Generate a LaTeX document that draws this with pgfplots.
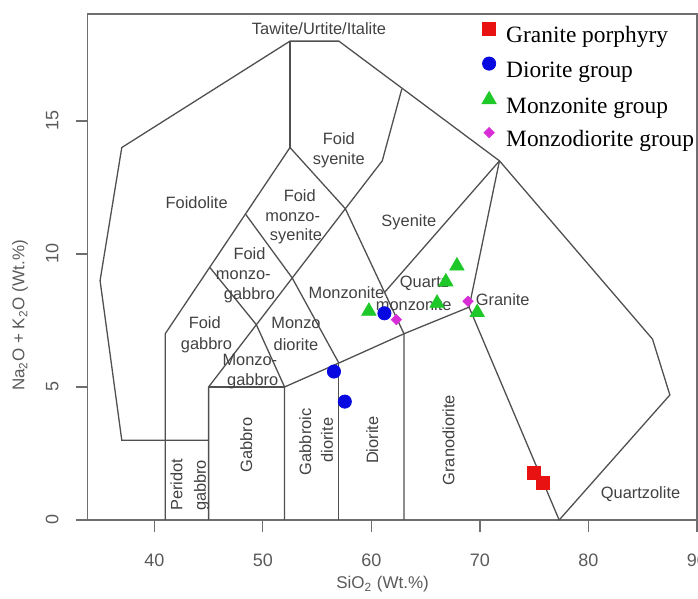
\documentclass[border=0pt]{standalone}
\usepackage{pgfplots}
\pgfplotsset{compat=1.18}
\usepackage{fontspec}
\setmainfont{Liberation Sans}
\newfontfamily\legendfont{Liberation Serif}

\definecolor{fieldline}{RGB}{80,80,80}
\definecolor{framegray}{RGB}{110,110,110}
\definecolor{labelgray}{RGB}{65,65,65}
\definecolor{ticktext}{RGB}{90,90,90}
\definecolor{gpred}{RGB}{232,18,18}
\definecolor{dgblue}{RGB}{8,8,225}
\definecolor{mggreen}{RGB}{30,200,40}
\definecolor{mdmagenta}{RGB}{215,45,215}

\newcommand\fieldfont{\fontsize{8.2}{10.4}\selectfont}

\begin{document}
\begin{tikzpicture}
\begin{axis}[
  scale only axis,
  width=304.65pt, height=253pt,
  xmin=33.86, xmax=90, ymin=0, ymax=19.02,
  axis line style={framegray, line width=0.75pt},
  tick pos=left,
  tick align=outside,
  major tick length=6pt,
  tick style={framegray, line width=0.6pt},
  xtick={40,50,60,70,80,90},
  ytick={0,5,10,15},
  /pgf/number format/assume math mode=true,
  ticklabel style={font=\fontsize{9}{10}\selectfont, text=ticktext},
  yticklabel style={rotate=90, anchor=south},
  xticklabel shift=7.5pt,
  yticklabel shift=5pt,
  xlabel={SiO\textsubscript{2} (Wt.\%)},
  ylabel={Na\textsubscript{2}O + K\textsubscript{2}O (Wt.\%)},
  label style={font=\fontsize{8.5}{10}\selectfont, text=ticktext},
  xlabel style={at={(axis description cs:0.484,-0.1265)}, anchor=center},
  ylabel style={at={(axis description cs:-0.111,0.404)}, anchor=center},
  clip=false,
  legend cell align=left,
  legend style={at={(axis description cs:0.6444,0.984)}, anchor=north west,
    draw=none, fill=none, inner sep=0pt, row sep=3.5pt, column sep=3.35pt,
    font=\legendfont\fontsize{11.7}{13}\selectfont,
    nodes={inner sep=1pt, text height=8pt, text depth=2.6pt}},
  legend image code/.code={\path (-4pt,0pt) (4pt,0pt); \draw[#1] plot coordinates {(0pt,4.15pt)};},
  field/.style={fieldline, line width=0.65pt, mark=none, forget plot},
]
% classification field boundaries
\addplot[field] coordinates {(45,3) (37,3) (35,9) (37,14) (52.5,18) (57,18) (71.8,13.5) (85.9,6.8) (87.5,4.7) (77.3,0)};
\addplot[field] coordinates {(52.5,18) (52.5,14)};
\addplot[field] coordinates {(41,0) (41,7) (52.5,14)};
\addplot[field] coordinates {(52.5,14) (57.6,11.7) (63,7) (63,0)};
\addplot[field] coordinates {(57.6,11.7) (61,13.5) (62.8,16.2)};
\addplot[field] coordinates {(45,0) (45,5) (57.6,11.7)};
\addplot[field] coordinates {(48.4,11.5) (52.7,9.1) (57,5.9)};
\addplot[field] coordinates {(45.1,9.5) (49.4,7.34) (52,5)};
\addplot[field] coordinates {(45,5) (52,5)};
\addplot[field] coordinates {(52,0) (52,5) (57,5.9) (63,7) (69,8)};
\addplot[field] coordinates {(57,0) (57,5.9)};
\addplot[field] coordinates {(61.2,8.55) (71.8,13.5)};
\addplot[field] coordinates {(69,8) (71.8,13.5)};
\addplot[field] coordinates {(69,8) (77.3,0)};

% field names
\begin{scope}[every node/.style={font=\fieldfont, text=labelgray, inner sep=0pt}]
\node at (axis cs:55.17,18.48) {Tawite/Urtite/Italite};
\node at (axis cs:43.9,11.94) {Foidolite};
\node[align=center] at (axis cs:57.0,13.9) {Foid\\syenite};
\node at (axis cs:53.4,12.2) {Foid};
\node at (axis cs:52.75,11.4) {monzo-};
\node at (axis cs:53.05,10.65) {syenite};
\node at (axis cs:48.77,10.03) {Foid};
\node at (axis cs:48.2,9.21) {monzo-};
\node at (axis cs:48.77,8.46) {gabbro};
\node at (axis cs:44.65,7.4) {Foid};
\node at (axis cs:44.8,6.58) {gabbro};
\node at (axis cs:53.05,7.4) {Monzo};
\node at (axis cs:53.05,6.58) {diorite};
\node at (axis cs:48.8,6.0) {Monzo-};
\node at (axis cs:49.07,5.2) {gabbro};
\node at (axis cs:57.7,8.55) {Monzonite};
\node at (axis cs:63.45,11.19) {Syenite};
\node at (axis cs:64.9,8.9) {Quartz};
\node at (axis cs:63.9,8.08) {monzonite};
\node at (axis cs:72.1,8.3) {Granite};
\node[rotate=90] at (axis cs:42.05,1.32) {Peridot};
\node[rotate=90] at (axis cs:44.35,1.3) {gabbro};
\node[rotate=90] at (axis cs:48.47,2.82) {Gabbro};
\node[rotate=90] at (axis cs:53.9,2.94) {Gabbroic};
\node[rotate=90] at (axis cs:55.9,3.0) {diorite};
\node[rotate=90] at (axis cs:60.07,3.0) {Diorite};
\node[rotate=90] at (axis cs:67.1,3.0) {Granodiorite};
\node at (axis cs:84.8,0.97) {Quartzolite};
\end{scope}

% samples
\addplot[only marks, mark=square*, mark size=3.3pt, mark options={draw=gpred, fill=gpred}]
  coordinates {(75.0,1.78) (75.8,1.40)};
\addlegendentry{Granite porphyry}
\addplot[only marks, mark=*, mark size=3.3pt, mark options={draw=dgblue, fill=dgblue}]
  coordinates {(56.55,5.58) (57.55,4.45) (61.2,7.77)};
\addlegendentry{Diorite group}
\addplot[only marks, mark=triangle*, mark size=4.1pt, mark options={draw=mggreen, fill=mggreen}]
  coordinates {(59.77,7.85) (66.05,8.15) (66.86,8.95) (67.88,9.55) (69.75,7.8)};
\addlegendentry{Monzonite group}
\addplot[only marks, mark=square*, mark size=1.8pt, mark options={draw=mdmagenta, fill=mdmagenta, rotate=45}]
  coordinates {(62.3,7.53) (68.9,8.22)};
\addlegendentry{Monzodiorite group}

\coordinate (bl) at (rel axis cs:0,0);
\coordinate (tr) at (rel axis cs:1,1);
\end{axis}
\pgfresetboundingbox
\path ([shift={(-43.85pt,-39.5pt)}]bl) rectangle ([shift={(0.5pt,7pt)}]tr);
\end{tikzpicture}
\end{document}
